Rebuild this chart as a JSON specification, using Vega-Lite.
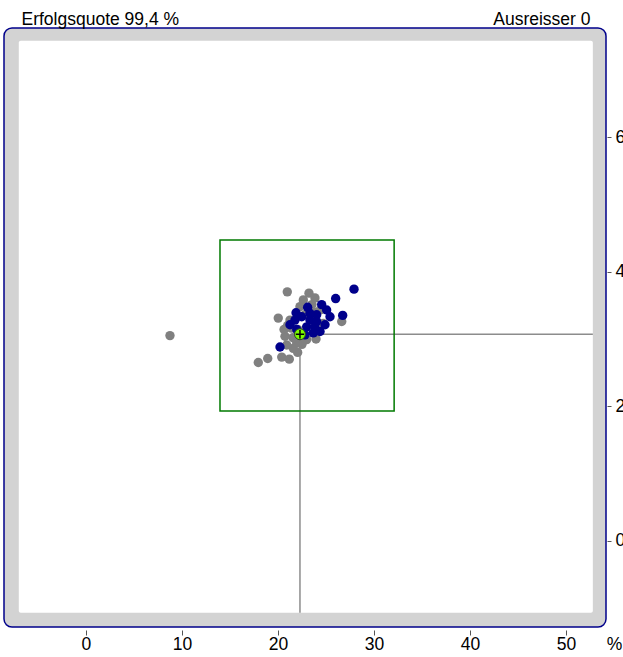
{
  "$schema": "https://vega.github.io/schema/vega-lite/v6.json",
  "autosize": {"type": "none"},
  "width": 602,
  "height": 599,
  "padding": {"left": 4, "top": 28, "right": 17, "bottom": 30},
  "background": "white",
  "config": {
    "view": {"fill": "#d3d3d3", "stroke": "#00008B", "strokeWidth": 1.5, "cornerRadius": 8},
    "axis": {"labelFont": "Liberation Sans", "titleFont": "Liberation Sans", "labelColor": "black", "titleColor": "black", "titleFontWeight": "normal", "grid": false}
  },
  "datasets": {
    "frame": [{"x": -7.0, "x2": 52.8, "y": -1.07, "y2": 7.43}],
    "lines": [
      {"x": 22.29, "x2": 22.29, "y": -1.07, "y2": 3.07},
      {"x": 22.29, "x2": 52.8, "y": 3.07, "y2": 3.07}
    ],
    "box": [{"x": 13.96, "x2": 32.1, "y": 1.93, "y2": 4.47}],
    "mean": [{"x": 22.29, "y": 3.07}],
    "pts": [
      {"x": 8.75, "y": 3.05, "g": "grau"},
      {"x": 20.97, "y": 3.70, "g": "grau"},
      {"x": 17.95, "y": 2.65, "g": "grau"},
      {"x": 18.93, "y": 2.71, "g": "grau"},
      {"x": 20.03, "y": 3.31, "g": "grau"},
      {"x": 20.39, "y": 2.73, "g": "grau"},
      {"x": 21.18, "y": 2.70, "g": "grau"},
      {"x": 22.05, "y": 2.80, "g": "grau"},
      {"x": 23.23, "y": 3.68, "g": "grau"},
      {"x": 23.85, "y": 3.61, "g": "grau"},
      {"x": 26.64, "y": 3.26, "g": "grau"},
      {"x": 23.96, "y": 3.00, "g": "grau"},
      {"x": 20.73, "y": 3.04, "g": "grau"},
      {"x": 20.91, "y": 2.91, "g": "grau"},
      {"x": 20.63, "y": 3.14, "g": "grau"},
      {"x": 22.64, "y": 3.58, "g": "grau"},
      {"x": 22.29, "y": 3.48, "g": "grau"},
      {"x": 24.38, "y": 3.43, "g": "grau"},
      {"x": 22.99, "y": 2.99, "g": "grau"},
      {"x": 21.59, "y": 2.86, "g": "grau"},
      {"x": 21.95, "y": 2.94, "g": "grau"},
      {"x": 24.72, "y": 3.23, "g": "grau"},
      {"x": 21.25, "y": 3.28, "g": "grau"},
      {"x": 22.80, "y": 3.36, "g": "grau"},
      {"x": 23.54, "y": 3.51, "g": "grau"},
      {"x": 22.08, "y": 3.14, "g": "grau"},
      {"x": 21.56, "y": 3.02, "g": "grau"},
      {"x": 21.40, "y": 3.16, "g": "grau"},
      {"x": 22.50, "y": 2.92, "g": "grau"},
      {"x": 23.70, "y": 3.40, "g": "grau"},
      {"x": 21.00, "y": 3.20, "g": "grau"},
      {"x": 27.92, "y": 3.74, "g": "blau"},
      {"x": 26.01, "y": 3.60, "g": "blau"},
      {"x": 26.74, "y": 3.35, "g": "blau"},
      {"x": 20.21, "y": 2.88, "g": "blau"},
      {"x": 24.55, "y": 3.51, "g": "blau"},
      {"x": 25.07, "y": 3.43, "g": "blau"},
      {"x": 25.42, "y": 3.33, "g": "blau"},
      {"x": 24.90, "y": 3.21, "g": "blau"},
      {"x": 21.88, "y": 3.39, "g": "blau"},
      {"x": 23.09, "y": 3.47, "g": "blau"},
      {"x": 24.03, "y": 3.36, "g": "blau"},
      {"x": 21.77, "y": 3.28, "g": "blau"},
      {"x": 22.47, "y": 3.33, "g": "blau"},
      {"x": 23.33, "y": 3.28, "g": "blau"},
      {"x": 21.95, "y": 3.14, "g": "blau"},
      {"x": 22.99, "y": 3.18, "g": "blau"},
      {"x": 23.85, "y": 3.18, "g": "blau"},
      {"x": 22.81, "y": 3.06, "g": "blau"},
      {"x": 23.68, "y": 3.09, "g": "blau"},
      {"x": 24.38, "y": 3.11, "g": "blau"},
      {"x": 22.29, "y": 3.06, "g": "blau"},
      {"x": 23.33, "y": 3.38, "g": "blau"},
      {"x": 21.25, "y": 3.21, "g": "blau"},
      {"x": 24.03, "y": 3.26, "g": "blau"}
    ]
  },
  "resolve": {"axis": {"x": "independent", "y": "independent"}},
  "layer": [
    {
      "data": {"name": "frame"},
      "mark": {"type": "rect", "fill": "white", "cornerRadius": 2},
      "encoding": {
        "x": {"field": "x", "type": "quantitative", "scale": {"domain": [-8.54, 54.17], "nice": false, "zero": false},
          "axis": {"orient": "top", "domain": false, "ticks": false, "labels": false, "title": "Ausreisser 0", "titleX": 586, "titleY": -3.5, "titleAlign": "right", "titleBaseline": "alphabetic", "titleFontSize": 17.5}},
        "x2": {"field": "x2"},
        "y": {"field": "y", "type": "quantitative", "scale": {"domain": [-1.28, 7.62], "nice": false, "zero": false},
          "axis": {"orient": "left", "domain": false, "ticks": false, "labels": false, "title": "Erfolgsquote 99,4 %", "titleAngle": 0, "titleX": 17, "titleY": -3.5, "titleAlign": "left", "titleBaseline": "alphabetic", "titleFontSize": 17.5}},
        "y2": {"field": "y2"}
      }
    },
    {
      "data": {"name": "lines"},
      "mark": {"type": "rule", "color": "#8c8c8c", "strokeWidth": 1.5},
      "encoding": {
        "x": {"field": "x", "type": "quantitative", "axis": null},
        "x2": {"field": "x2"},
        "y": {"field": "y", "type": "quantitative", "axis": null},
        "y2": {"field": "y2"}
      }
    },
    {
      "data": {"name": "box"},
      "mark": {"type": "rect", "fill": null, "fillOpacity": 0, "stroke": "#007A00", "strokeWidth": 1.5},
      "encoding": {
        "x": {"field": "x", "type": "quantitative", "axis": null},
        "x2": {"field": "x2"},
        "y": {"field": "y", "type": "quantitative", "axis": null},
        "y2": {"field": "y2"}
      }
    },
    {
      "data": {"name": "pts"},
      "mark": {"type": "circle", "size": 88, "opacity": 1},
      "encoding": {
        "x": {"field": "x", "type": "quantitative",
          "axis": {"orient": "bottom", "values": [0, 10, 20, 30, 40, 50], "domain": false, "offset": 3, "tickSize": 5, "tickColor": "#555555", "labelPadding": 0, "labelFontSize": 17.5, "labelFlush": false, "labelOverlap": false, "title": "%", "titleX": 610, "titleY": 5, "titleAlign": "center", "titleBaseline": "top", "titleFontSize": 17.5}},
        "y": {"field": "y", "type": "quantitative",
          "axis": {"orient": "right", "values": [0, 2, 4, 6], "domain": false, "offset": 1, "tickSize": 4, "tickColor": "#555555", "labelPadding": 4, "labelFontSize": 17.5, "labelBaseline": "middle", "labelFlush": false, "labelOverlap": false, "title": null}},
        "color": {"field": "g", "type": "nominal", "scale": {"domain": ["grau", "blau"], "range": ["#808080", "#00008B"]}, "legend": null}
      }
    },
    {
      "data": {"name": "mean"},
      "mark": {"type": "circle", "size": 120, "fill": "#7CFC00", "stroke": "#2d4a1e", "strokeWidth": 1, "opacity": 1},
      "encoding": {
        "x": {"field": "x", "type": "quantitative", "axis": null},
        "y": {"field": "y", "type": "quantitative", "axis": null}
      }
    },
    {
      "data": {"name": "mean"},
      "mark": {"type": "point", "shape": "M-1,0L1,0M0,-1L0,1", "size": 70, "filled": false, "stroke": "black", "strokeWidth": 1.5, "opacity": 1},
      "encoding": {
        "x": {"field": "x", "type": "quantitative", "axis": null},
        "y": {"field": "y", "type": "quantitative", "axis": null}
      }
    }
  ]
}
